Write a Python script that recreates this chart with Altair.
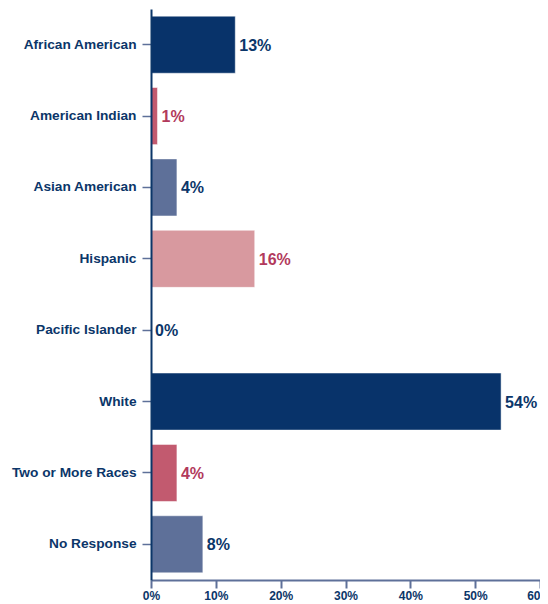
import altair as alt
import pandas as pd

categories = ["African American", "American Indian", "Asian American", "Hispanic",
              "Pacific Islander", "White", "Two or More Races", "No Response"]
values = [13, 1, 4, 16, 0, 54, 4, 8]
bar_colors = ["#08336a", "#c25a6f", "#5e7099", "#d8999f",
              "#08336a", "#08336a", "#c25a6f", "#5e7099"]
label_colors = ["#0b3669", "#b23a5c", "#0b3669", "#b23a5c",
                "#0b3669", "#0b3669", "#b23a5c", "#0b3669"]
x_ticks = [0, 10, 20, 30, 40, 50, 60]

df = pd.DataFrame({
    "cat": categories,
    "val": values,
    "bar_color": bar_colors,
    "label_color": label_colors,
    "label": [f"{v}%" for v in values],
})

FONT = "Liberation Sans"
NAVY = "#0b3669"
SLATE = "#5e7099"

base = alt.Chart(df).encode(
    y=alt.Y("cat:N", sort=categories, title=None,
            scale=alt.Scale(paddingInner=0.2, paddingOuter=0.1),
            axis=alt.Axis(domainColor=NAVY, domainWidth=2, tickColor=SLATE,
                          tickSize=9, tickWidth=1.5, labelColor=NAVY,
                          labelFontWeight="bold", labelFontSize=13.7, labelFont=FONT,
                          labelPadding=6, zindex=1)),
    x=alt.X("val:Q", title=None, scale=alt.Scale(domain=[0, 60], nice=False),
            axis=alt.Axis(values=x_ticks,
                          labelExpr="datum.value == 60 ? '60' : datum.value + '%'",
                          labelAlign={"condition": {"test": "datum.value == 60", "value": "right"},
                                      "value": "center"},
                          grid=False,
                          domainColor=SLATE, domainWidth=2, tickColor=SLATE,
                          tickWidth=2, tickSize=8, labelColor=NAVY,
                          labelFontWeight="bold", labelFontSize=12, labelFont=FONT,
                          labelFlush=False, labelPadding=2, zindex=1)),
)

bars = base.mark_bar(stroke="#ffffff", strokeOpacity=0.5, strokeWidth=1).encode(
    color=alt.Color("bar_color:N", scale=None)
)

text = base.mark_text(align="left", baseline="middle", dx=4, dy=1, fontSize=16,
                      fontWeight="bold", font=FONT).encode(
    text="label:N",
    color=alt.Color("label_color:N", scale=None),
)

chart = (bars + text).properties(
    width=389, height=571,
    autosize=alt.AutoSizeParams(type="none"),
    padding={"left": 143, "right": 0, "top": 1, "bottom": 23},
).configure_view(strokeWidth=0)

chart.save("out.html", embed_options={"renderer": "svg", "actions": False})
